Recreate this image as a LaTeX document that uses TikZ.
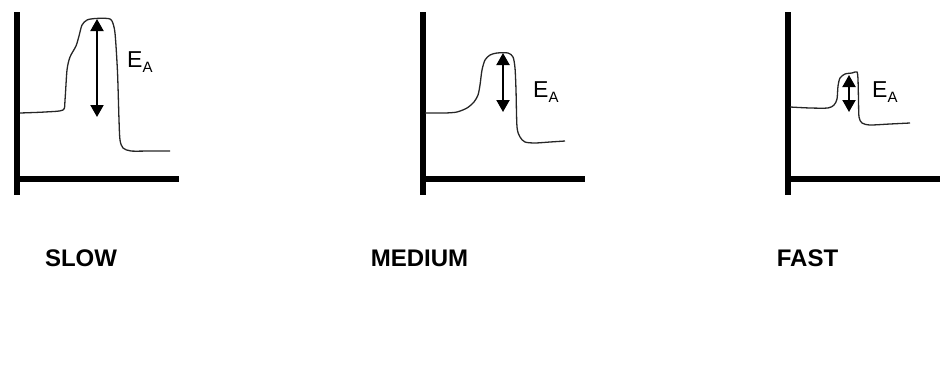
\documentclass[tikz,border=0pt]{standalone}
\usepackage{fontspec}
\setmainfont{Liberation Sans}
\usetikzlibrary{arrows.meta}
\begin{document}
\begin{tikzpicture}[x=1pt,y=-1pt,
  axis/.style={line width=5.5pt},
  curve/.style={line width=1.3pt,draw=black!85,smooth,tension=0.45},
  ea/.style={line width=2pt,{Triangle[width=13pt,length=12pt]}-{Triangle[width=13pt,length=12pt]}},
  ealabel/.style={anchor=base west,inner sep=0pt,font=\fontsize{23}{25}\selectfont},
  rate/.style={inner sep=0pt,font=\fontsize{24}{26}\selectfont\bfseries}]
\useasboundingbox (0,0) rectangle (941,372);
% Panel 1 (SLOW)
\coordinate (a1t) at (17,12); \coordinate (a1o) at (17,195);
\coordinate (a1l) at (15,179); \coordinate (a1r) at (179,179);
\draw[axis] (a1t) -- (a1o);
\draw[axis] (a1l) -- (a1r);
\draw[curve] plot coordinates {(20,113) (45,112) (63,110) (65,100) (67,70) (70,57) (76,46) (79,36) (82,25) (87,20) (95,18.5) (108,18.5) (112,21) (115,33) (117.5,72) (119,120) (120,140) (123,148) (131,151) (150,151) (170,151)};
\coordinate (e1t) at (97,19); \coordinate (e1b) at (97,117);
\draw[ea] (e1t) -- (e1b);
\node[ealabel] (l1) at (127,67) {E\raisebox{-0.25em}{\fontsize{15}{16}\selectfont A}};
\node[rate] (s1) at (81,258) {SLOW};
% Panel 2 (MEDIUM)
\coordinate (a2t) at (423,12); \coordinate (a2o) at (423,195);
\coordinate (a2l) at (421,179); \coordinate (a2r) at (585,179);
\draw[axis] (a2t) -- (a2o);
\draw[axis] (a2l) -- (a2r);
\draw[curve] plot coordinates {(425,113) (445,113) (457,112) (467,108) (474,102) (478,95) (480,85) (482,70) (485,60) (490,55) (497,53) (508,53) (513,57) (515,68) (516,90) (517,127) (520,137) (525,142) (535,143) (550,142) (565,141)};
\coordinate (e2t) at (503,53); \coordinate (e2b) at (503,112);
\draw[ea] (e2t) -- (e2b);
\node[ealabel] (l2) at (533,97) {E\raisebox{-0.25em}{\fontsize{15}{16}\selectfont A}};
\node[rate] (s2) at (419.5,258) {MEDIUM};
% Panel 3 (FAST)
\coordinate (a3t) at (788,12); \coordinate (a3o) at (788,195);
\coordinate (a3l) at (786,179); \coordinate (a3r) at (940,179);
\draw[axis] (a3t) -- (a3o);
\draw[axis] (a3l) -- (a3r);
\draw[curve] plot coordinates {(790,107) (810,108) (828,108) (834,105) (837,99) (838,86) (840,78) (845,74) (852,73) (857,72) (858,80) (858.5,100) (859,117) (862,123) (870,125) (890,124) (910,123)};
\coordinate (e3t) at (849,75); \coordinate (e3b) at (849,112);
\draw[ea] (e3t) -- (e3b);
\node[ealabel] (l3) at (872,97) {E\raisebox{-0.25em}{\fontsize{15}{16}\selectfont A}};
\node[rate] (s3) at (807.5,258) {FAST};
\end{tikzpicture}
\end{document}
